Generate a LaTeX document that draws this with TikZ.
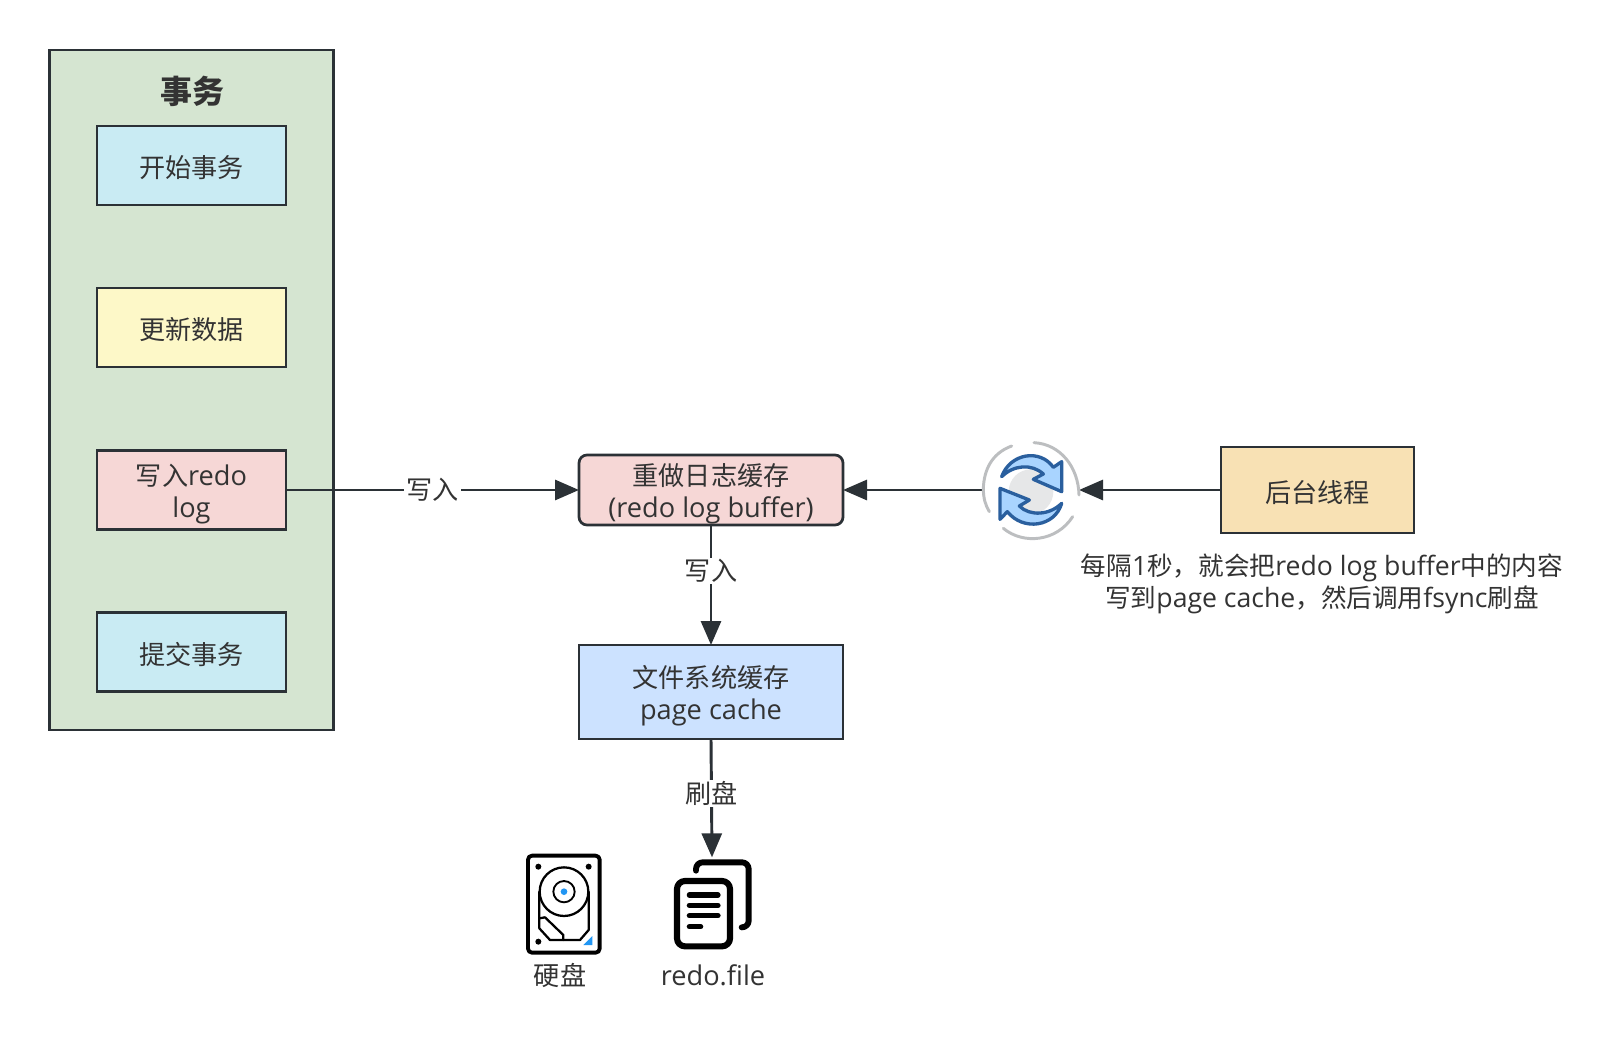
\documentclass[tikz,border=0pt]{standalone}
\usepackage{fontspec}
\setmainfont[Scale=1.04]{Open Sans}
\newfontfamily\cjk{Noto Sans CJK SC}
\newcommand\dntwo{\rule{0pt}{21.5pt}}
\usetikzlibrary{arrows.meta}
\definecolor{ink}{HTML}{2B3136}
\definecolor{txt}{HTML}{333333}
\definecolor{cgreen}{HTML}{D5E5D1}
\definecolor{cblue}{HTML}{C9EBF3}
\definecolor{cyellow}{HTML}{FDF8C8}
\definecolor{cpink}{HTML}{F6D7D6}
\definecolor{cpage}{HTML}{CCE2FF}
\definecolor{corange}{HTML}{F8E1B4}
\definecolor{syncfill}{HTML}{A9D4FF}
\definecolor{syncline}{HTML}{2A5F9E}
\definecolor{syncgray}{HTML}{BCBEC0}
\definecolor{synccore}{HTML}{E6E7E8}
\definecolor{diskblue}{HTML}{2196F3}
\tikzset{
  x=0.75pt,y=-0.75pt,
  every node/.style={text=txt,font=\fontsize{19.6}{24}\selectfont,align=center,inner sep=0pt,outer sep=0pt},
  dnone/.style={execute at begin node=\rule{0pt}{20pt}},
  boxa/.style={draw=ink,line width=2.05pt,minimum width=141.75pt,minimum height=59.25pt},
  wide/.style={draw=ink,line width=2.05pt,minimum width=198pt},
  conn/.style={draw=ink,line width=2.2pt,-{Triangle[length=18pt,width=15pt]}},
  lbl/.style={fill=white,inner ysep=1pt,inner xsep=1.5pt},
  black3/.style={draw=black,line width=#1,line join=round,line cap=round},
}
\begin{document}
\begin{tikzpicture}
\useasboundingbox (0,0) rectangle (1620,1062);
\fill[white] (0,0) rectangle (1620,1062);
\node[draw=ink,line width=2.05pt,fill=cgreen,minimum width=212.5pt,minimum height=510pt] (tx) at (191.5,390) {};
\node[font=\fontsize{24}{28}\selectfont\bfseries] (title) at (192,91) {\cjk 事务};
\node[boxa,dnone,fill=cblue] (start) at (191.5,165.5) {\cjk 开始事务};
\node[boxa,dnone,fill=cyellow] (update) at (191.5,327.5) {\cjk 更新数据};
\node[boxa,fill=cpink] (write) at (191.5,490) {\dntwo{\cjk 写入}redo\\log};
\node[boxa,dnone,fill=cblue] (commit) at (191.5,652) {\cjk 提交事务};
\node[wide,rounded corners=6pt,fill=cpink,minimum height=52.5pt] (buffer) at (711,490) {\dntwo{\cjk 重做日志缓存}\\(redo log buffer)};
\node[wide,fill=cpage,minimum height=70.5pt] (page) at (711,692) {\dntwo{\cjk 文件系统缓存}\\page cache};
\node[draw=ink,line width=2.05pt,dnone,fill=corange,minimum width=144.75pt,minimum height=64.5pt] (bg) at (1317.5,490) {\cjk 后台线程};
\node[circle,minimum size=72pt] (sync) at (1031,490) {};
\node[minimum width=56pt,minimum height=64pt] (files) at (712,900) {};
\node[minimum width=56pt,minimum height=75pt] (disk) at (564,904) {};
\node[font=\fontsize{19.2}{24}\selectfont] (note) at (1322,584) {{\cjk 每隔}1{\cjk 秒，就会把}redo log buffer{\cjk 中的内容}\\{\cjk 写到}page cache{\cjk ，然后调用}fsync{\cjk 刷盘}};
\node (diskcap) at (560,975) {\cjk 硬盘};
\node (filecap) at (713,975) {redo.file};
% connectors
\draw[conn] (write.east) -- node[lbl] {\cjk 写入} (buffer.west);
\draw[conn] (buffer.south) -- node[lbl,pos=.38] {\cjk 写入} (page.north);
\draw[conn] (page.south) -- node[lbl,pos=.46] {\cjk 刷盘} (files.north);
\draw[conn] (bg.west) -- (sync.east);
\draw[conn] (sync.west) -- (buffer.east);
% sync icon, drawn in the coordinates of a 3x crop
\begin{scope}[shift={(960,420)},x=0.25pt,y=-0.25pt]
\fill[synccore] (213,215) circle[radius=67];
\draw[syncgray,line width=2.2pt,line cap=round]
  (155,78) .. controls (95,100) and (72,150) .. (70,205) .. controls (70,235) and (76,255) .. (88,275);
\draw[syncgray,line width=2.2pt,line cap=round]
  (222,68) .. controls (300,72) and (355,140) .. (357,225);
\draw[syncgray,line width=2.2pt,line cap=round]
  (338,290) .. controls (290,365) and (190,375) .. (130,325);
\draw[syncline,fill=syncfill,line width=2.5pt,line join=round]
  (125,170) .. controls (150,100) and (240,85) .. (280,142) -- (305,125) -- (305,215) -- (220,178) -- (250,162)
  .. controls (215,130) and (160,135) .. (125,170) -- cycle;
\draw[syncline,fill=syncfill,line width=2.5pt,line join=round]
  (305,250) .. controls (285,320) and (190,335) .. (142,275) -- (120,298) -- (120,205) -- (208,240) -- (178,258)
  .. controls (210,290) and (270,285) .. (305,250) -- cycle;
\end{scope}
% disk icon
\begin{scope}[shift={(500,840)},x=0.25pt,y=-0.25pt]
\draw[black3=2.9pt,fill=white,rounded corners=3pt] (84,47) rectangle (299,338);
\fill[black] (115,80) circle[radius=9] (266,80) circle[radius=9] (115,305) circle[radius=9];
\draw[black3=1.7pt] (118,155) -- (118,265) -- (150,300) -- (240,300) -- (266,270) -- (266,155);
\draw[black3=1.7pt] (118,235) -- (135,232) -- (190,285) -- (190,300);
\draw[black3=1.7pt,fill=white] (192,155) circle[radius=73];
\draw[black3=1.4pt] (192,155) circle[radius=32];
\fill[diskblue] (192,155) circle[radius=10];
\fill[diskblue] (250,315) -- (277,315) -- (277,288) -- cycle;
\end{scope}
% file icon
\begin{scope}[shift={(500,840)},x=0.25pt,y=-0.25pt]
\draw[black3=4.4pt,rounded corners=5pt] (588,92) -- (588,67) -- (746,67) -- (746,262) -- (725,262);
\draw[black3=4.6pt,rounded corners=6pt] (531,123) rectangle (690,319);
\draw[black3=3.9pt] (568,165) -- (654,165) (568,196) -- (654,196) (568,227) -- (654,227) (568,260) -- (602,260);
\end{scope}
\end{tikzpicture}
\end{document}
